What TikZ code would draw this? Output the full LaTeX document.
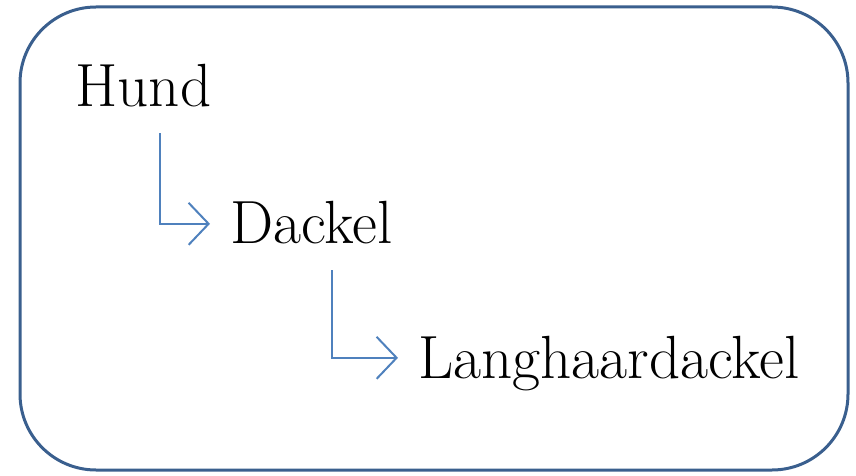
\documentclass[tikz,border=0pt]{standalone}
\usetikzlibrary{arrows.meta,calc}
\definecolor{boxblue}{HTML}{3A5F8E}
\definecolor{linkblue}{HTML}{4F81BD}
\tikzset{
word/.style={inner sep=0pt,text depth=0pt,anchor=base west,font=\fontsize{30.5}{36}\selectfont},
link/.style={draw=linkblue,line width=1pt,-{Straight Barb[length=10pt,width=21pt,line width=1pt]},shorten >=10pt}
}
\begin{document}
\begin{tikzpicture}[x=0.5pt,y=-0.5pt]
\useasboundingbox (0,0) rectangle (856,476);
\draw[boxblue,line width=1.5pt,rounded corners=38pt] (20,7) rectangle (848,470);
\node[word] (hund) at (75,106) {Hund};
\node[word] (dackel) at (230,243) {Dackel};
\node[word] (lang) at (418,378) {Langhaardackel};
% Abzweigungen
\coordinate (s1) at ($(hund.base west)+(85,27)$);
\coordinate (s2) at ($(dackel.base west)+(102,27)$);
\draw[link] (s1) |- ($(dackel.west)+(0,2)$);
\draw[link] (s2) |- ($(lang.west)+(0,1)$);
\end{tikzpicture}
\end{document}
